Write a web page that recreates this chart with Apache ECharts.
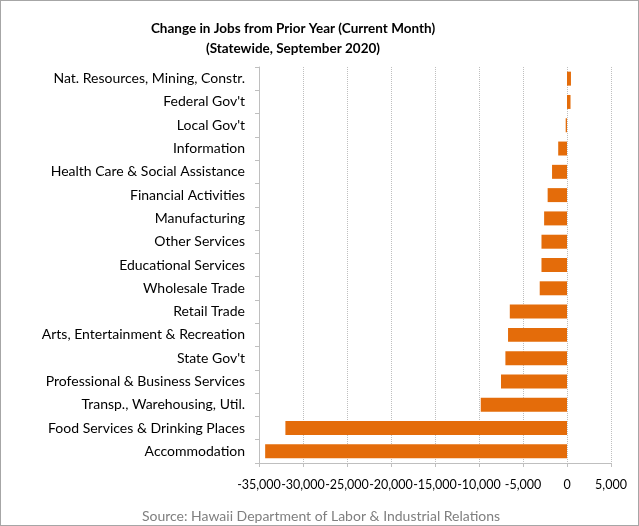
<!DOCTYPE html>
<html><head><meta charset="utf-8">
<script src="https://cdn.jsdelivr.net/npm/echarts@6/dist/echarts.min.js"></script>
<style>html,body{margin:0;padding:0;background:#fff}#c{width:639px;height:526px;box-sizing:border-box;border:1px solid #a6a6a6}</style>
</head><body><div id="c"></div>
<script>
const categories = ["Nat. Resources, Mining, Constr.","Federal Gov't","Local Gov't","Information","Health Care & Social Assistance","Financial Activities","Manufacturing","Other Services","Educational Services","Wholesale Trade","Retail Trade","Arts, Entertainment & Recreation","State Gov't","Professional & Business Services","Transp., Warehousing, Util.","Food Services & Drinking Places","Accommodation"];
const jobChange = [450,400,-150,-1000,-1700,-2200,-2600,-2900,-2900,-3100,-6500,-6700,-7000,-7500,-9800,-32000,-34300];
const titleLines = ["Change in Jobs from Prior Year (Current Month)","(Statewide, September 2020)"];
const sourceText = "Source: Hawaii Department of Labor & Industrial Relations";
const FONT = "Lato";
const chart = echarts.init(document.getElementById('c'), null, {renderer:'canvas'});
chart.setOption({
  animation:false,
  title:[{text:titleLines.join('\n'),left:287,top:13,textAlign:'center',textStyle:{fontFamily:FONT,fontWeight:'bold',fontSize:13.5,lineHeight:20,color:'#000'}},
         {text:sourceText,left:315,top:503,textAlign:'center',textStyle:{fontFamily:FONT,fontWeight:'normal',fontSize:14,color:'#7f7f7f'}}],
  grid:{left:258,right:27,top:66,bottom:62,containLabel:false},
  xAxis:{type:'value',min:-35000,max:5000,interval:5000,
    axisLine:{show:true,lineStyle:{color:'#bfbfbf'}},
    axisTick:{show:true,length:4,lineStyle:{color:'#bfbfbf'}},
    axisLabel:{fontFamily:FONT,fontSize:12.5,color:'#000',margin:15,hideOverlap:false,showMinLabel:true,showMaxLabel:true,formatter:v=>v.toLocaleString('en-US')},
    splitLine:{show:true,lineStyle:{color:'#bfbfbf',type:[1,1],width:1}}},
  yAxis:[{type:'category',data:categories,inverse:true,
    axisLine:{show:false},axisTick:{show:false},
    axisLabel:{fontFamily:FONT,fontSize:14,color:'#000',margin:14}},
   {type:'category',data:categories,inverse:true,position:'left',
    axisLine:{show:true,onZero:true,lineStyle:{color:'#bfbfbf'}},
    axisTick:{show:true,length:4,lineStyle:{color:'#bfbfbf'}},
    axisLabel:{show:false}}],
  series:[{type:'bar',data:jobChange,yAxisIndex:0,barCategoryGap:'40%',itemStyle:{color:'#E46C0A'}}]
});
</script></body></html>
